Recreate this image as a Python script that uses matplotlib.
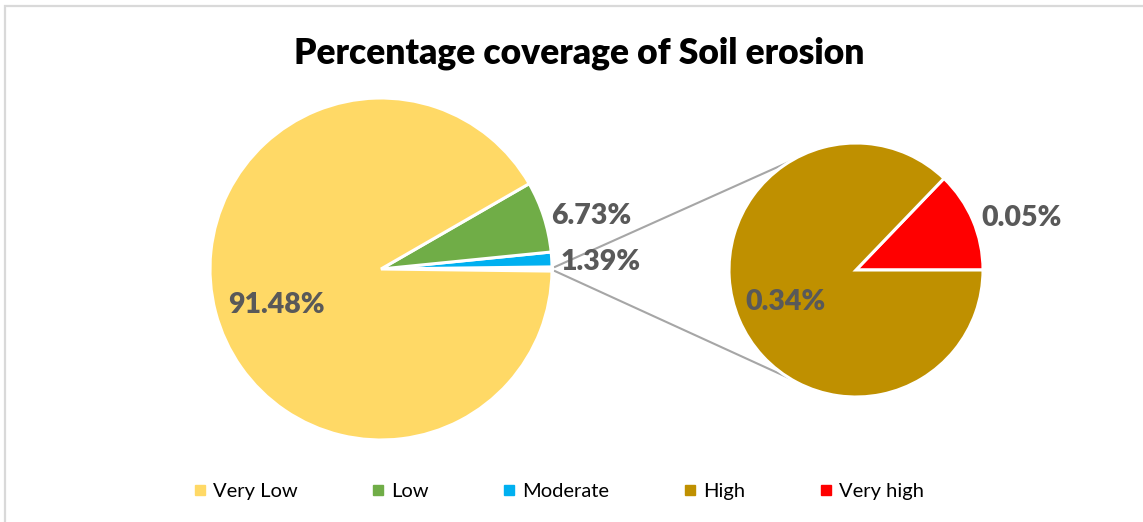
import matplotlib
matplotlib.use("Agg")
import matplotlib.pyplot as plt
from matplotlib.lines import Line2D
from matplotlib.patches import Rectangle
import numpy as np

plt.rcParams['font.family'] = ['Lato', 'DejaVu Sans']

# ---- data ----
title = "Percentage coverage of Soil erosion"
categories = ["Very Low", "Low", "Moderate", "High", "Very high"]
values = [91.48, 6.73, 1.39, 0.34, 0.05]
colors = ["#FFD966", "#70AD47", "#00B0F0", "#BF9000", "#FF0000"]
label_color = "#595959"

W, H = 1143, 522
fig = plt.figure(figsize=(W / 100, H / 100), dpi=100)
ax = fig.add_axes([0, 0, 1, 1])

def py(y):  # pixel y (top-down) -> data y
    return H - y

# main pie: Other, Moderate, Low, Very Low (counterclockwise from right)
other = values[3] + values[4]
main_vals = [other, values[2], values[1], values[0]]
main_cols = ["#FFFFFF", colors[2], colors[1], colors[0]]
start_main = -other / 100 * 360 / 2
c_main = (381, py(269))
r_main = 171
wedges_main, _ = ax.pie(main_vals, colors=main_cols, startangle=start_main,
                        counterclock=True, center=c_main, radius=r_main,
                        wedgeprops=dict(edgecolor='white', linewidth=2.2),
                        normalize=True, frame=True)

# secondary pie: Very high, High
sec_vals = [values[4], values[3]]
sec_cols = [colors[4], colors[3]]
c_sec = (856, py(270))
r_sec = 127
wedges_sec, _ = ax.pie(sec_vals, colors=sec_cols, startangle=0,
                       counterclock=True, center=c_sec, radius=r_sec,
                       wedgeprops=dict(edgecolor='white', linewidth=2.2),
                       normalize=True, frame=True)
ax.set_xlim(0, W)
ax.set_ylim(0, H)
ax.set_aspect('equal')
ax.axis('off')

# connector lines
w_other = wedges_main[0]
for ang_main, ang_sec in [(w_other.theta2, 121.3), (w_other.theta1, -121.3)]:
    x0 = c_main[0] + r_main * np.cos(np.radians(ang_main)) + 3
    y0 = c_main[1] + r_main * np.sin(np.radians(ang_main))
    x1 = c_sec[0] + r_sec * np.cos(np.radians(ang_sec))
    y1 = c_sec[1] + r_sec * np.sin(np.radians(ang_sec))
    ax.plot([x0, x1], [y0, y1], color="#A6A6A6", lw=1.5, zorder=0)

# data labels
lab_kw = dict(color=label_color, fontsize=20.5, fontweight='heavy',
              ha='center', va='center')
ax.text(276, py(305), f"{values[0]:.2f}%", **lab_kw)
ax.text(591, py(216), f"{values[1]:.2f}%", **lab_kw)
ax.text(601, py(262), f"{values[2]:.2f}%", **lab_kw)
ax.text(786, py(302), f"{values[3]:.2f}%", **lab_kw)
ax.text(1022, py(218), f"{values[4]:.2f}%", **lab_kw)

# title
ax.text(579, py(53), title, fontsize=25.5, fontweight='heavy', color='black',
        ha='center', va='center')

# legend
handles = [Line2D([0], [0], marker='s', linestyle='none', markersize=7,
                  markerfacecolor=c, markeredgecolor=c) for c in colors]
leg = fig.legend(handles, categories, loc='center', ncol=5,
                 bbox_to_anchor=(559 / W, 1 - 491 / H), frameon=False,
                 fontsize=14.5, handlelength=0.6, handletextpad=0.35,
                 columnspacing=3.7)
for t in leg.get_texts():
    t.set_color('black')

# chart border
fig.patches.append(Rectangle((5 / W, -0.1), 2.0, (H - 6) / H + 0.1,
                             transform=fig.transFigure, fill=False,
                             edgecolor="#D9D9D9", linewidth=1.6))

fig.savefig("out.png", dpi=100)
